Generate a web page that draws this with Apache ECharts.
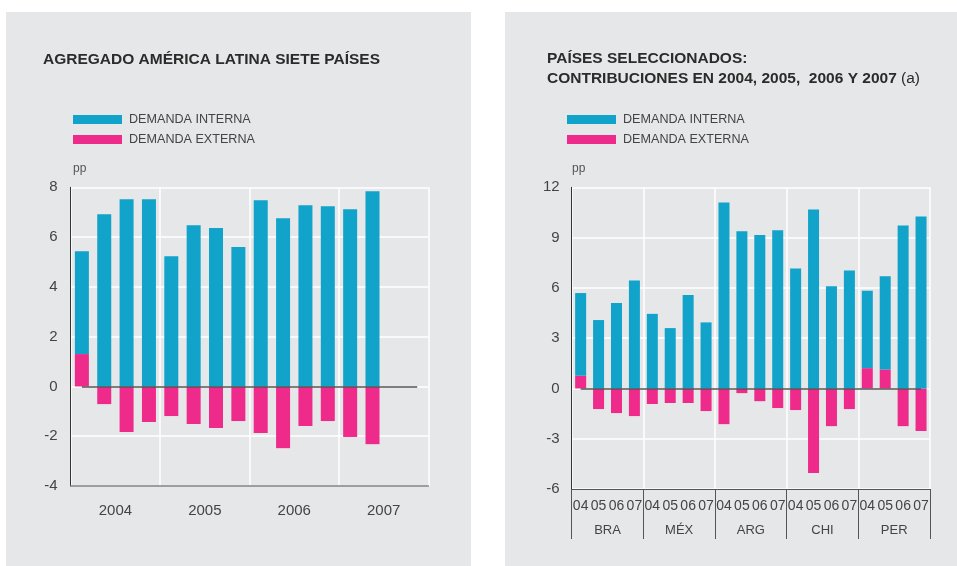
<!DOCTYPE html>
<html>
<head>
<meta charset="utf-8">
<script src="https://cdn.jsdelivr.net/npm/echarts@6/dist/echarts.min.js"></script>
<style>
  html, body { margin: 0; padding: 0; background: #fff; }
  #main { width: 957px; height: 566px; }
</style>
</head>
<body>
<div id="main"></div>
<script>
// datos: panel izquierdo (agregado, 14 trimestres 2004-2007)
var anios = ['2004', '2005', '2006', '2007']
var trimestres = ['04T1','04T2','04T3','04T4','05T1','05T2','05T3','05T4','06T1','06T2','06T3','06T4','07T1','07T2','07T3','07T4']
var internaAgr = [4.13, 6.92, 7.52, 7.52, 5.23, 6.48, 6.36, 5.60, 7.48, 6.76, 7.28, 7.24, 7.12, 7.84]
var externaAgr = [1.30, -0.71, -1.83, -1.43, -1.19, -1.51, -1.67, -1.39, -1.87, -2.48, -1.59, -1.39, -2.03, -2.32]

// datos: panel derecho (paises seleccionados)
var paises = ['BRA', 'MÉX', 'ARG', 'CHI', 'PER']
var periodos = ['04', '05', '06', '07']
var internaPais = [4.93, 4.08, 5.09, 6.44,  4.45, 3.60, 5.57, 3.94,  11.09, 9.38, 9.15, 9.44,  7.16, 10.68, 6.10, 7.04,  4.62, 5.57, 9.72, 10.26]
var externaPais = [0.76, -1.23, -1.47, -1.65,  -0.93, -0.87, -0.87, -1.35,  -2.13, -0.28, -0.76, -1.17,  -1.29, -5.05, -2.25, -1.23,  1.21, 1.13, -2.25, -2.54]

var azul = '#11a3c9'
var rosa = '#ee2a8b'
var fondo = '#e6e7e8'
var fuente = '"Liberation Sans", Arial, sans-serif'

// categorias del panel derecho: 04..07 por cada pais
var catPais = []
paises.forEach(function (p) {
  periodos.forEach(function (a) { catPais.push(p + '-' + a) })
})

var chart = echarts.init(document.getElementById('main'))

// linea del cero, del primer al ultimo centro de categoria
function lineaCero(cats, n) {
  return {
    silent: true,
    symbol: 'none',
    label: { show: false },
    lineStyle: { color: '#555', width: 1.5, type: 'solid' },
    data: [[{ coord: [cats[0], 0] }, { coord: [cats[n - 1], 0] }]]
  }
}

var leyenda = {
  top: 112.5, orient: 'vertical', padding: 0,
  itemWidth: 49, itemHeight: 9, itemGap: 6, icon: 'rect',
  selectedMode: false,
  data: ['DEMANDA INTERNA', 'DEMANDA EXTERNA'],
  textStyle: { color: '#444', fontSize: 12.6, lineHeight: 14, fontFamily: fuente, padding: [0, 0, 0, 2] }
}

var option = {
  backgroundColor: '#fff',
  animation: false,
  textStyle: { fontFamily: fuente },
  graphic: [
    { type: 'rect', z: -10, shape: { x: 6, y: 12, width: 465, height: 560 }, style: { fill: fondo } },
    { type: 'rect', z: -10, shape: { x: 505, y: 12, width: 460, height: 560 }, style: { fill: fondo } },
    { type: 'text', left: 73, top: 163, style: { text: 'pp', fill: '#555', font: '12px ' + fuente } },
    { type: 'text', left: 572, top: 163, style: { text: 'pp', fill: '#555', font: '12px ' + fuente } }
  ],
  title: [
    {
      text: 'AGREGADO AMÉRICA LATINA SIETE PAÍSES',
      left: 43, top: 49.5, padding: 0,
      textStyle: { color: '#2b2b2b', fontSize: 15.5, lineHeight: 20, fontWeight: 'bold', fontFamily: fuente }
    },
    {
      text: 'PAÍSES SELECCIONADOS:\nCONTRIBUCIONES EN 2004, 2005,  2006 Y 2007 {a|(a)}',
      left: 547, top: 49, padding: 0,
      textStyle: {
        color: '#2b2b2b', fontSize: 15.5, fontWeight: 'bold', fontFamily: fuente, lineHeight: 20,
        rich: { a: { fontWeight: 'normal', fontSize: 15.5, lineHeight: 20, color: '#2b2b2b', fontFamily: fuente } }
      }
    }
  ],
  legend: [
    Object.assign({ left: 73 }, leyenda),
    Object.assign({ left: 567 }, leyenda)
  ],
  grid: [
    { left: 70.7, top: 187.3, width: 357.7, height: 298.7 },
    { left: 571.7, top: 187.3, width: 358.3, height: 301.7 }
  ],
  xAxis: [
    {
      type: 'category', gridIndex: 0, data: trimestres,
      axisLine: { show: true, onZero: false, lineStyle: { color: '#808080', width: 1.5 } },
      axisTick: { show: false }, axisLabel: { show: false }, splitLine: { show: false }
    },
    {
      type: 'category', gridIndex: 0, data: anios, position: 'bottom',
      axisLine: { show: false, onZero: false }, axisTick: { show: false },
      axisLabel: { color: '#444', fontSize: 15, margin: 17 },
      splitLine: { show: true, interval: 0, lineStyle: { color: '#fff', width: 1.5 } }
    },
    {
      type: 'category', gridIndex: 1, data: catPais,
      axisLine: { show: true, onZero: false, lineStyle: { color: '#555', width: 1 } },
      axisTick: { show: false },
      axisLabel: {
        color: '#444', fontSize: 14, margin: 10, interval: 0,
        formatter: function (v) { return v.split('-')[1] }
      },
      splitLine: { show: false }
    },
    {
      type: 'category', gridIndex: 1, data: paises, position: 'bottom',
      axisLine: { show: false, onZero: false },
      axisTick: { show: true, interval: 0, length: 50, lineStyle: { color: '#555', width: 1 } },
      axisLabel: { color: '#444', fontSize: 13, margin: 35, interval: 0 },
      splitLine: { show: true, interval: 0, lineStyle: { color: '#fff', width: 1.5 } }
    }
  ],
  yAxis: [
    {
      type: 'value', gridIndex: 0, min: -4, max: 8, interval: 2,
      axisLine: { show: true, lineStyle: { color: '#333', width: 1 } },
      axisTick: { show: false },
      axisLabel: { color: '#444', fontSize: 15, margin: 13 },
      splitLine: { lineStyle: { color: '#fff', width: 1.5 } }
    },
    {
      type: 'value', gridIndex: 1, min: -6, max: 12, interval: 3,
      axisLine: { show: true, lineStyle: { color: '#333', width: 1 } },
      axisTick: { show: false },
      axisLabel: { color: '#444', fontSize: 15, margin: 12 },
      splitLine: { lineStyle: { color: '#fff', width: 1.5 } }
    }
  ],
  series: [
    {
      name: 'DEMANDA EXTERNA', type: 'bar', xAxisIndex: 0, yAxisIndex: 0,
      stack: 'izq', barWidth: 14, data: externaAgr,
      itemStyle: { color: rosa },
      markLine: lineaCero(trimestres, trimestres.length)
    },
    {
      name: 'DEMANDA INTERNA', type: 'bar', xAxisIndex: 0, yAxisIndex: 0,
      stack: 'izq', barWidth: 14, data: internaAgr,
      itemStyle: { color: azul }
    },
    {
      name: 'DEMANDA EXTERNA', type: 'bar', xAxisIndex: 2, yAxisIndex: 1,
      stack: 'der', barWidth: 11, data: externaPais,
      itemStyle: { color: rosa },
      markLine: lineaCero(catPais, catPais.length)
    },
    {
      name: 'DEMANDA INTERNA', type: 'bar', xAxisIndex: 2, yAxisIndex: 1,
      stack: 'der', barWidth: 11, data: internaPais,
      itemStyle: { color: azul }
    }
  ]
}
chart.setOption(option)
</script>
</body>
</html>
